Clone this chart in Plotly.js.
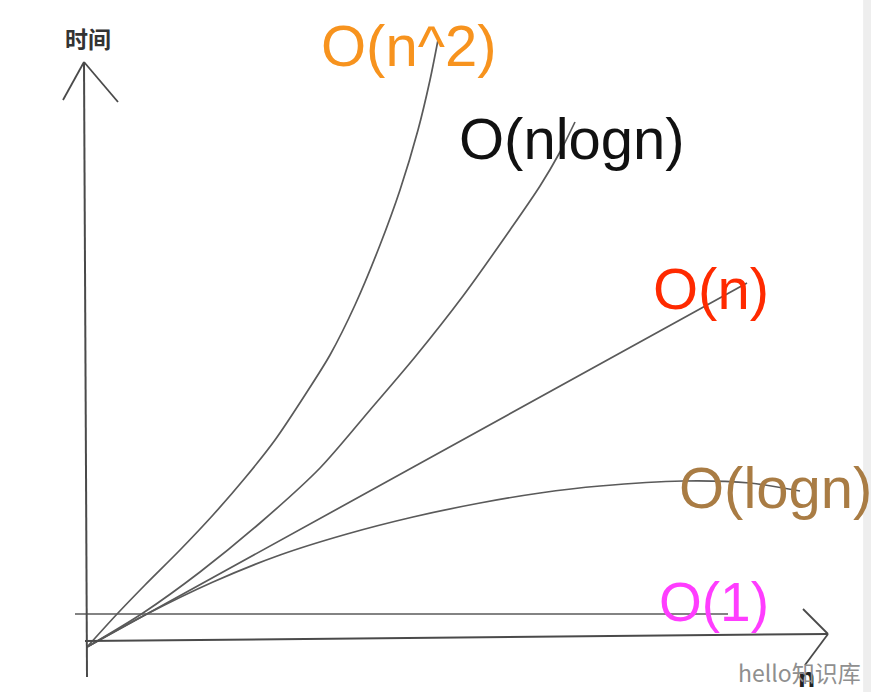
<!DOCTYPE html>
<html>
<head>
<meta charset="utf-8">
<script src="https://cdn.plot.ly/plotly-3.0.1.min.js"></script>
<style>html,body{margin:0;padding:0;background:#fff;}#chart{width:871px;height:692px;}</style>
</head>
<body>
<div id="chart"></div>
<script>
// Curve values (x = input size n, y = time)
const labels = ["O(n^2)", "O(nlogn)", "O(n)", "O(logn)", "O(1)"];
const axisLabels = ["时间", "n"];
const watermark = "hello知识库";

const nSqX = [0, 31, 58, 93, 126, 158, 188, 218, 243, 268, 293, 313, 331, 343, 351];
const nSqY = [-7, 27, 55, 90, 125, 162, 200, 245, 285, 335, 395, 450, 510, 560, 600];

const nLogNX = [0, 56, 113, 173, 233, 283, 328, 376, 423, 453, 473, 488];
const nLogNY = [-7, 27, 68, 117, 172, 230, 283, 344, 410, 454, 488, 518];

const nX = [0, 330, 660];
const nY = [-7, 175, 357];

const logNX = [0, 58, 126, 193, 260, 326, 393, 453, 513, 596, 663, 713];
const logNY = [-7, 25, 58, 85, 106, 123, 137, 147, 154, 159, 157, 149];

const oneX = [-12, 641];
const oneY = [26, 26];

const curveColor = "#5a5a5a";
function curve(x, y) {
  return {x: x, y: y, type: "scatter", mode: "lines",
          line: {color: curveColor, width: 1.7, shape: "spline", smoothing: 0.8},
          hoverinfo: "skip"};
}
const traces = [
  curve(nSqX, nSqY),
  curve(nLogNX, nLogNY),
  curve(nX, nY),
  curve(logNX, logNY),
  curve(oneX, oneY)
];

const axisColor = "#4a4a4a";
function seg(x0, y0, x1, y1, w) {
  return {type: "line", xref: "x", yref: "y", x0: x0, y0: y0, x1: x1, y1: y1,
          line: {color: axisColor, width: w || 2}};
}
const shapes = [
  {type: "rect", xref: "paper", yref: "paper", x0: 0.991, x1: 1, y0: 0, y1: 1,
   fillcolor: "#eeeeee", line: {width: 0}, layer: "below"},
  // vertical axis + arrow
  seg(0, -37, -3, 578),
  seg(-24, 540, -3, 578, 1.8),
  seg(31, 538, -3, 578, 1.8),
  // horizontal axis + arrow
  seg(-2, -1, 741, 6),
  seg(716, 31, 741, 6, 1.8),
  seg(718, -25, 741, 6, 1.8)
];

const labelFont = "Liberation Sans, Arial, Helvetica, sans-serif";
function lab(text, x, y, color, size) {
  return {text: text, x: x, y: y, xref: "x", yref: "y", showarrow: false,
          xanchor: "center", yanchor: "middle",
          font: {family: labelFont, size: size || 58, color: color}};
}
const annotations = [
  lab(labels[0], 321, 595, "#F7931E"),
  lab(labels[1], 485, 502, "#111111"),
  lab(labels[2], 624, 352, "#FF2A00"),
  lab(labels[3], 688, 153, "#A97C44"),
  lab(labels[4], 627, 38, "#FF3DFF", 55),
  {text: axisLabels[0], x: 1, y: 602, xref: "x", yref: "y", showarrow: false,
   xanchor: "center", yanchor: "middle",
   font: {family: "Noto Sans CJK SC, sans-serif", size: 23, color: "#333333", weight: 700}},
  {text: axisLabels[1], x: 719, y: -20, xref: "x", yref: "y", showarrow: false,
   xanchor: "center", yanchor: "top",
   font: {family: labelFont, size: 28, color: "#222222", weight: 700}},
  {text: watermark, x: 712, y: -32, xref: "x", yref: "y", showarrow: false,
   xanchor: "center", yanchor: "middle",
   font: {family: "Noto Sans CJK SC, sans-serif", size: 23, color: "#8f8f8f"}}
];

const layout = {
  width: 871, height: 692,
  margin: {l: 0, r: 0, t: 0, b: 0},
  paper_bgcolor: "#ffffff", plot_bgcolor: "#ffffff",
  showlegend: false,
  xaxis: {range: [-87, 784], visible: false, fixedrange: true},
  yaxis: {range: [-52, 640], visible: false, fixedrange: true},
  shapes: shapes,
  annotations: annotations
};

Plotly.newPlot("chart", traces, layout, {staticPlot: true, displayModeBar: false});
</script>
</body>
</html>
